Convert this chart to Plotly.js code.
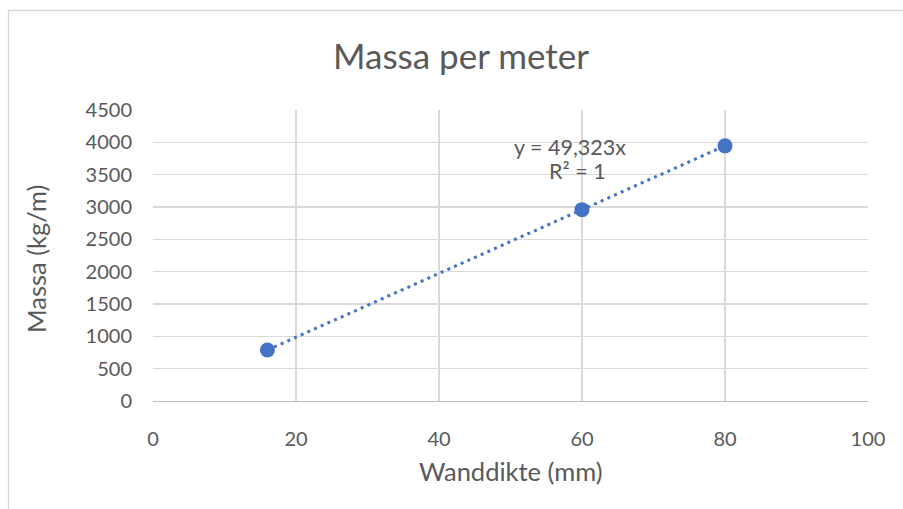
<!DOCTYPE html>
<html>
<head>
<meta charset="utf-8">
<script src="https://cdn.plot.ly/plotly-3.0.1.min.js"></script>
<style>html,body{margin:0;padding:0;background:#fff;}#chart{width:903px;height:509px;}</style>
</head>
<body>
<div id="chart"></div>
<script>
// Data
const wanddikte = [16, 60, 80];          // mm
const massa = [789, 2959, 3946];         // kg/m
const trendSlope = 49.323;               // from the trendline label
const trendX = [16, 80];
const xTicks = [0, 20, 40, 60, 80, 100];
const yTicks = [0, 500, 1000, 1500, 2000, 2500, 3000, 3500, 4000, 4500];
const titleText = 'Massa per meter';
const xTitle = 'Wanddikte (mm)';
const yTitle = 'Massa (kg/m)';
const eqText = 'y = 49,323x';
const r2Text = 'R² = 1';

const FONT = 'Lato, "Open Sans", sans-serif';
const TXT = '#595959';
const BLUE = '#4472c4';

const trendY = trendX.map(x => trendSlope * x);

const traces = [
  {
    x: trendX, y: trendY, type: 'scatter', mode: 'lines',
    line: {color: BLUE, width: 3, dash: '3px,4.3px'},
    hoverinfo: 'skip', showlegend: false
  },
  {
    x: wanddikte, y: massa, type: 'scatter', mode: 'markers',
    marker: {color: BLUE, size: 15},
    showlegend: false
  }
];

// plot area in pixels: x 153..868, y 110..401
const L = 153, R = 868, T = 110, B = 401;
const px2paperX = p => (p - L) / (R - L);
const px2paperY = p => (B - p) / (B - T);

const layout = {
  width: 903, height: 509,
  margin: {l: L, r: 903 - R, t: T, b: 509 - B},
  paper_bgcolor: '#ffffff', plot_bgcolor: '#ffffff',
  font: {family: FONT, color: TXT},
  title: {text: titleText, font: {family: FONT, size: 35, color: TXT},
          x: 461 / 903, xanchor: 'center', y: 1 - 57 / 509, yanchor: 'middle', xref: 'container', yref: 'container'},
  xaxis: {
    range: [0, 100], tickvals: xTicks, ticktext: xTicks.map(String),
    showgrid: true, gridcolor: '#d9d9d9', gridwidth: 1.3,
    showline: true, linecolor: '#bfbfbf', linewidth: 1.3,
    zeroline: false, ticks: '', ticklabelstandoff: 20,
    tickfont: {family: FONT, size: 20, color: TXT}, fixedrange: true
  },
  yaxis: {
    range: [0, 4500], tickvals: yTicks, ticktext: yTicks.map(String),
    showgrid: true, gridcolor: '#d9d9d9', gridwidth: 1.3,
    showline: false, zeroline: false, ticks: '', ticklabelstandoff: 20,
    tickfont: {family: FONT, size: 20, color: TXT}, fixedrange: true
  },
  annotations: [
    {text: xTitle, xref: 'paper', yref: 'paper', x: px2paperX(510), y: px2paperY(471),
     xanchor: 'center', yanchor: 'middle', showarrow: false, font: {family: FONT, size: 25.5, color: TXT}},
    {text: yTitle, xref: 'paper', yref: 'paper', x: px2paperX(36), y: px2paperY(259),
     xanchor: 'center', yanchor: 'middle', textangle: -90, showarrow: false, font: {family: FONT, size: 25.5, color: TXT}},
    {text: eqText, xref: 'paper', yref: 'paper', x: px2paperX(570), y: px2paperY(147),
     xanchor: 'center', yanchor: 'middle', showarrow: false, font: {family: FONT, size: 21.5, color: TXT}},
    {text: r2Text, xref: 'paper', yref: 'paper', x: px2paperX(577), y: px2paperY(171),
     xanchor: 'center', yanchor: 'middle', showarrow: false, font: {family: FONT, size: 21.5, color: TXT}}
  ],
  shapes: [
    {type: 'rect', xref: 'paper', yref: 'paper', layer: 'below',
     x0: px2paperX(8.5), x1: px2paperX(910), y0: px2paperY(520), y1: px2paperY(10.5),
     line: {color: '#d9d9d9', width: 1.3}, fillcolor: 'rgba(0,0,0,0)'}
  ]
};

Plotly.newPlot('chart', traces, layout, {displayModeBar: false, staticPlot: true});
</script>
</body>
</html>
